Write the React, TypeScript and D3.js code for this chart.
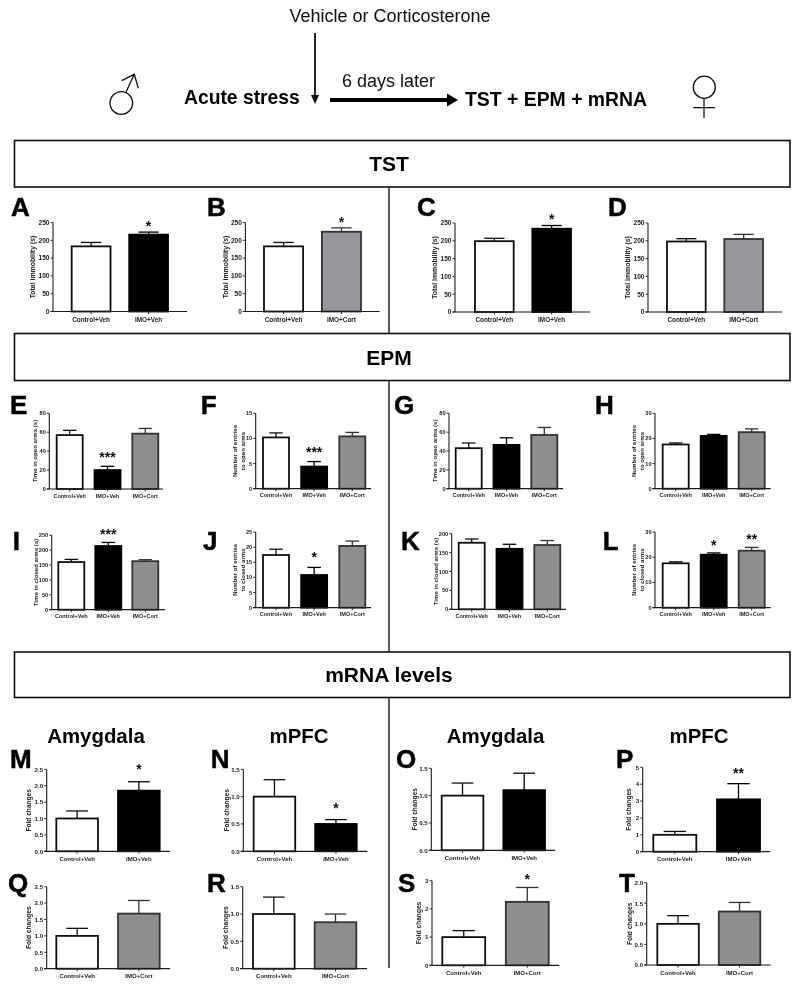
import React from "react";
import * as d3 from "d3";

const FONT = "'Liberation Sans', Arial, Helvetica, sans-serif";
const INK = "#1c1c1c";

// ---- data ----
const tstLabel = "Total immobility (s)";
const catsVehVeh = ["Control+Veh", "IMO+Veh"];
const catsVehCort = ["Control+Veh", "IMO+Cort"];
const catsThree = ["Control+Veh", "IMO+Veh", "IMO+Cort"];

const ticks250 = [0, 50, 100, 150, 200, 250];
const ticks200 = [0, 50, 100, 150, 200];
const ticks80 = [0, 20, 40, 60, 80];
const ticks30 = [0, 10, 20, 30];
const ticks25 = [0, 5, 10, 15, 20, 25];
const ticks15 = [0, 5, 10, 15];
const ticks5 = [0, 1, 2, 3, 4, 5];
const ticks3 = [0, 1, 2, 3];
const ticks25f = [0, 0.5, 1, 1.5, 2, 2.5];
const ticks2f = [0, 0.5, 1, 1.5, 2];
const ticks15f = [0, 0.5, 1, 1.5];

const meansA = [183, 216], topsA = [194, 223];
const meansB = [183, 224], topsB = [194, 235];
const meansC = [199, 234], topsC = [207, 243];
const meansD = [198, 205], topsD = [206, 218];
const meansE = [57, 20, 58.5], topsE = [62, 24, 64];
const meansF = [10.2, 4.4, 10.4], topsF = [11.1, 5.4, 11.2];
const meansG = [43, 46.5, 57], topsG = [48.5, 54, 65];
const meansH = [17.6, 21, 22.5], topsH = [18.2, 21.6, 23.8];
const meansI = [160, 214, 163], topsI = [169, 226, 168];
const meansJ = [17.4, 10.8, 20.4], topsJ = [19.3, 13.3, 22];
const meansK = [176, 160, 170], topsK = [186, 172, 182];
const meansL = [17.6, 21, 22.6], topsL = [18.2, 21.7, 23.9];
const meansM = [1, 1.85], topsM = [1.23, 2.12];
const meansN = [1, 0.5], topsN = [1.31, 0.58];
const meansO = [1, 1.1], topsO = [1.23, 1.41];
const meansP = [1, 3.1], topsP = [1.2, 4.03];
const meansQ = [1, 1.68], topsQ = [1.23, 2.08];
const meansR = [1, 0.85], topsR = [1.31, 1];
const meansS = [1, 2.25], topsS = [1.23, 2.76];
const meansT = [1, 1.3], topsT = [1.2, 1.52];

type P = {
  letter: string; lx: number; ly: number;
  ax: number; right: number; top: number; bottom: number;
  b0: number; b1: number;
  cats: string[]; means: number[]; tops: number[]; ticks: number[];
  ylabel: string[]; ydist: number; stars?: (string | null)[]; gap?: number;
  fs: number; xfs: number; yfs: number; xdy: number; grey?: string;
};

const FC = ["Fold changes"];
const TO = ["Number of entries", "to open arms"];
const TC = ["Number of entries", "to closed arms"];
const tstBase = { top: 222.5, bottom: 311.5, cats: catsVehVeh, ticks: ticks250, ylabel: [tstLabel], ydist: 20, fs: 6.6, xfs: 6.4, yfs: 6.9, xdy: 10, gap: 7 };
const epmBase = { fs: 5.6, xfs: 5.5, yfs: 6.1, xdy: 8.5, cats: catsThree, gap: 10 };
const mBase = { fs: 6.2, xfs: 6, yfs: 6.6, xdy: 9.5, gap: 12 };

const panels: P[] = [
  { ...tstBase, letter: "A", lx: 11, ly: 216, ax: 53, right: 187, b0: 71.7, b1: 168, means: meansA, tops: topsA, stars: [null, "*"] },
  { ...tstBase, letter: "B", lx: 207, ly: 216, ax: 245.4, right: 379.6, b0: 264, b1: 361, cats: catsVehCort, means: meansB, tops: topsB, stars: [null, "*"], grey: "#97969b", gap: 6 },
  { ...tstBase, letter: "C", lx: 417, ly: 216, ax: 455, right: 590, top: 223, bottom: 312, b0: 475, b1: 571, means: meansC, tops: topsC, stars: [null, "*"] },
  { ...tstBase, letter: "D", lx: 608, ly: 216, ax: 648, right: 782, top: 223, bottom: 312, b0: 667, b1: 763, cats: catsVehCort, means: meansD, tops: topsD, grey: "#97969b" },

  { ...epmBase, letter: "E", lx: 10, ly: 414, ax: 49.3, right: 163, top: 413.3, bottom: 489, b0: 56.7, b1: 158.3, means: meansE, tops: topsE, ticks: ticks80, ylabel: ["Time in open arms (s)"], ydist: 14, stars: [null, "***", null] },
  { ...epmBase, letter: "F", lx: 200.7, ly: 414, ax: 255.7, right: 371, top: 413.3, bottom: 488.7, b0: 263, b1: 365.3, means: meansF, tops: topsF, ticks: ticks15, ylabel: TO, ydist: 20.7, stars: [null, "***", null] },
  { ...epmBase, letter: "G", lx: 394, ly: 414, ax: 449, right: 563, top: 413.3, bottom: 488.7, b0: 455.7, b1: 557.3, means: meansG, tops: topsG, ticks: ticks80, ylabel: ["Time in open arms (s)"], ydist: 14 },
  { ...epmBase, letter: "H", lx: 595, ly: 414, ax: 655, right: 770.7, top: 413.3, bottom: 488.7, b0: 662.7, b1: 764.7, means: meansH, tops: topsH, ticks: ticks30, ylabel: TO, ydist: 20.7 },
  { ...epmBase, letter: "I", lx: 12.7, ly: 550, ax: 51.7, right: 165, top: 535.3, bottom: 609.7, b0: 58.3, b1: 158.3, means: meansI, tops: topsI, ticks: ticks250, ylabel: ["Time in closed arms (s)"], ydist: 16, stars: [null, "***", null], gap: 9 },
  { ...epmBase, letter: "J", lx: 203, ly: 550, ax: 255.7, right: 371, top: 532, bottom: 607.7, b0: 263, b1: 365.3, means: meansJ, tops: topsJ, ticks: ticks25, ylabel: TC, ydist: 20.7, stars: [null, "*", null], gap: 11 },
  { ...epmBase, letter: "K", lx: 401, ly: 550, ax: 451.7, right: 566, top: 533.7, bottom: 609.3, b0: 458.7, b1: 560.3, means: meansK, tops: topsK, ticks: ticks200, ylabel: ["Time in closed arms (s)"], ydist: 16 },
  { ...epmBase, letter: "L", lx: 602.7, ly: 550, ax: 655, right: 770.7, top: 532, bottom: 607.7, b0: 662.7, b1: 764.7, means: meansL, tops: topsL, ticks: ticks30, ylabel: TC, ydist: 20.7, stars: [null, "*", "**"], gap: 8.5 },

  { ...mBase, letter: "M", lx: 10, ly: 768, ax: 46.7, right: 170, top: 769.3, bottom: 851.3, b0: 56.3, b1: 159.7, cats: catsVehVeh, means: meansM, tops: topsM, ticks: ticks25f, ylabel: FC, ydist: 17.7, stars: [null, "*"], gap: 13 },
  { ...mBase, letter: "N", lx: 210.7, ly: 768, ax: 243.3, right: 367.3, top: 769.3, bottom: 851.3, b0: 253.7, b1: 356.7, cats: catsVehVeh, means: meansN, tops: topsN, ticks: ticks15f, ylabel: FC, ydist: 17, stars: [null, "*"] },
  { ...mBase, letter: "O", lx: 396, ly: 768, ax: 431.3, right: 555, top: 768.3, bottom: 850.3, b0: 441.7, b1: 545, cats: catsVehVeh, means: meansO, tops: topsO, ticks: ticks15f, ylabel: FC, ydist: 17 },
  { ...mBase, letter: "P", lx: 616, ly: 768, ax: 642.7, right: 770, top: 767.3, bottom: 851.7, b0: 653.3, b1: 760, cats: catsVehVeh, means: meansP, tops: topsP, ticks: ticks5, ylabel: FC, ydist: 13.7, stars: [null, "**"], gap: 11 },
  { ...mBase, letter: "Q", lx: 8, ly: 892, ax: 46.7, right: 170, top: 886.7, bottom: 968.7, b0: 56.3, b1: 159.7, cats: catsVehCort, means: meansQ, tops: topsQ, ticks: ticks25f, ylabel: FC, ydist: 17.7 },
  { ...mBase, letter: "R", lx: 207, ly: 892, ax: 242.7, right: 367, top: 886.7, bottom: 968.7, b0: 253, b1: 356.3, cats: catsVehCort, means: meansR, tops: topsR, ticks: ticks15f, ylabel: FC, ydist: 17 },
  { ...mBase, letter: "S", lx: 398, ly: 892, ax: 432, right: 559.3, top: 880.7, bottom: 965.3, b0: 442.3, b1: 548.7, cats: catsVehCort, means: meansS, tops: topsS, ticks: ticks3, ylabel: FC, ydist: 13, stars: [null, "*"], gap: 9 },
  { ...mBase, letter: "T", lx: 619, ly: 892, ax: 646.7, right: 770.7, top: 882.7, bottom: 965, b0: 657.3, b1: 760.3, cats: catsVehCort, means: meansT, tops: topsT, ticks: ticks2f, ylabel: FC, ydist: 17 },
];

function fillFor(cat: string, grey?: string) {
  if (cat.startsWith("Control")) return "#ffffff";
  if (cat === "IMO+Veh") return "#000000";
  return grey ?? "#8f8f8f";
}

function Panel({ p }: { p: P }) {
  const y = d3.scaleLinear().domain([p.ticks[0], p.ticks[p.ticks.length - 1]]).range([p.bottom, p.top]);
  const n = p.cats.length;
  const span = p.b1 - p.b0;
  const barW = n === 3 ? 26 : span * 0.403;
  const gapW = (span - n * barW) / (n - 1);
  const x = d3.scaleBand<string>().domain(p.cats).range([p.b0, p.b1]).paddingInner(gapW / (barW + gapW)).paddingOuter(0);
  const bw = x.bandwidth();
  const decimals = p.ticks.some((t) => !Number.isInteger(t));
  const fmt = d3.format(decimals ? ".1f" : "d");
  const cy = (p.top + p.bottom) / 2;
  const lineGap = p.yfs * 1.27;
  return (
    <g fontFamily={FONT} fill={INK}>
      <text x={p.lx} y={p.ly} fontSize={26} fontWeight={700} fill="#000" stroke="#000" strokeWidth={0.5}>{p.letter}</text>
      {p.cats.map((c, i) => {
        const bx = x(c)!;
        const mx = bx + bw / 2;
        const isWhite = c.startsWith("Control");
        const sc = isWhite ? "#111" : c === "IMO+Veh" ? "#000" : "#333";
        const capW = bw * 0.26;
        return (
          <g key={c}>
            <line x1={mx} x2={mx} y1={y(p.tops[i])} y2={y(p.means[i])} stroke={sc} strokeWidth={1.3} />
            <line x1={mx - capW} x2={mx + capW} y1={y(p.tops[i])} y2={y(p.tops[i])} stroke={sc} strokeWidth={1.3} />
            <rect x={bx} y={y(p.means[i])} width={bw} height={p.bottom - y(p.means[i])} fill={fillFor(c, p.grey)} stroke={sc} strokeWidth={1.8} />
            <line x1={mx} x2={mx} y1={p.bottom} y2={p.bottom + 2.5} stroke={INK} strokeWidth={0.9} />
            <text x={mx} y={p.bottom + p.xdy} fontSize={p.xfs} fontWeight={700} textAnchor="middle" fill="#222">{c}</text>
            {p.stars?.[i] ? (
              <text x={mx} y={y(p.tops[i]) - (p.gap ?? 8) + 5.5} fontSize={14} fontWeight={700} textAnchor="middle" fill="#111">{p.stars[i]}</text>
            ) : null}
          </g>
        );
      })}
      <line x1={p.ax} x2={p.ax} y1={p.top} y2={p.bottom} stroke={INK} strokeWidth={1.1} />
      <line x1={p.ax - 2.5} x2={p.right} y1={p.bottom} y2={p.bottom} stroke={INK} strokeWidth={1.2} />
      {p.ticks.map((t) => (
        <g key={t}>
          <line x1={p.ax - 2.5} x2={p.ax} y1={y(t)} y2={y(t)} stroke={INK} strokeWidth={0.9} />
          <text x={p.ax - 3.5} y={y(t) + p.fs * 0.36} fontSize={p.fs} fontWeight={700} textAnchor="end" fill="#222">{fmt(t)}</text>
        </g>
      ))}
      {p.ylabel.map((line, i) => {
        const lx = p.ax - p.ydist + i * lineGap + p.yfs * 0.36;
        return (
          <text key={line} transform={`translate(${lx},${cy}) rotate(-90)`} fontSize={p.yfs} fontWeight={700} textAnchor="middle" fill="#222">{line}</text>
        );
      })}
    </g>
  );
}

const boxes = [
  { label: "TST", y0: 140.5, y1: 187 },
  { label: "EPM", y0: 333.5, y1: 380.5 },
  { label: "mRNA levels", y0: 652, y1: 697.5 },
];
const dividers = [[187, 333], [380.5, 652], [697.5, 968]];
const headings = [
  { t: "Amygdala", x: 96 }, { t: "mPFC", x: 299 }, { t: "Amygdala", x: 495.6 }, { t: "mPFC", x: 699 },
];

export default function App() {
  return (
    <svg width={800} height={987} viewBox="0 0 800 987" style={{ position: "absolute", left: 0, top: 0, background: "#fff" }} fontFamily={FONT}>
      <defs>
        <filter id="soft" filterUnits="userSpaceOnUse" x={0} y={0} width={800} height={987}>
          <feGaussianBlur stdDeviation={0.4} />
        </filter>
      </defs>
      <rect width={800} height={987} fill="#fff" />
      <g filter="url(#soft)">
        <text x={390} y={22} fontSize={18} textAnchor="middle" fill="#111">Vehicle or Corticosterone</text>
        <line x1={315} x2={315} y1={33} y2={97} stroke="#111" strokeWidth={1.8} />
        <path d="M311 95 L319 95 L315 104 Z" fill="#111" />
        <text x={184} y={104} fontSize={19.3} fontWeight={700} fill="#000">Acute stress</text>
        <text x={342} y={87} fontSize={18} fill="#111">6 days later</text>
        <line x1={330} x2={450} y1={100} y2={100} stroke="#000" strokeWidth={4} />
        <path d="M447 93.5 L458 100 L447 106.5 Z" fill="#000" />
        <text x={465} y={106} fontSize={19.4} fontWeight={700} fill="#000">TST + EPM + mRNA</text>

        <g fill="none" stroke="#111" strokeWidth={1.3}>
          <ellipse cx={121.3} cy={103} rx={11.3} ry={11.3} />
          <path d="M125.7 92.7 L134.3 74.3 M121.7 80.7 L134.3 74.3 L138.3 88.3" />
          <ellipse cx={704.3} cy={87.2} rx={11} ry={11.1} />
          <path d="M704 98.3 V118 M693.3 107.7 H715" />
        </g>

        {boxes.map((b) => (
          <g key={b.label}>
            <rect x={14.5} y={b.y0} width={775.5} height={b.y1 - b.y0} fill="#fff" stroke="#111" strokeWidth={1.6} />
            <text x={389} y={(b.y0 + b.y1) / 2 + 7.5} fontSize={21} fontWeight={700} textAnchor="middle" fill="#000">{b.label}</text>
          </g>
        ))}
        {dividers.map(([a, c]) => (
          <line key={a} x1={389} x2={389} y1={a} y2={c} stroke="#333" strokeWidth={1.6} />
        ))}
        {headings.map((h, i) => (
          <text key={i} x={h.x} y={742.7} fontSize={20.4} fontWeight={700} textAnchor="middle" fill="#000">{h.t}</text>
        ))}
        {panels.map((p) => <Panel key={p.letter} p={p} />)}
      </g>
    </svg>
  );
}
